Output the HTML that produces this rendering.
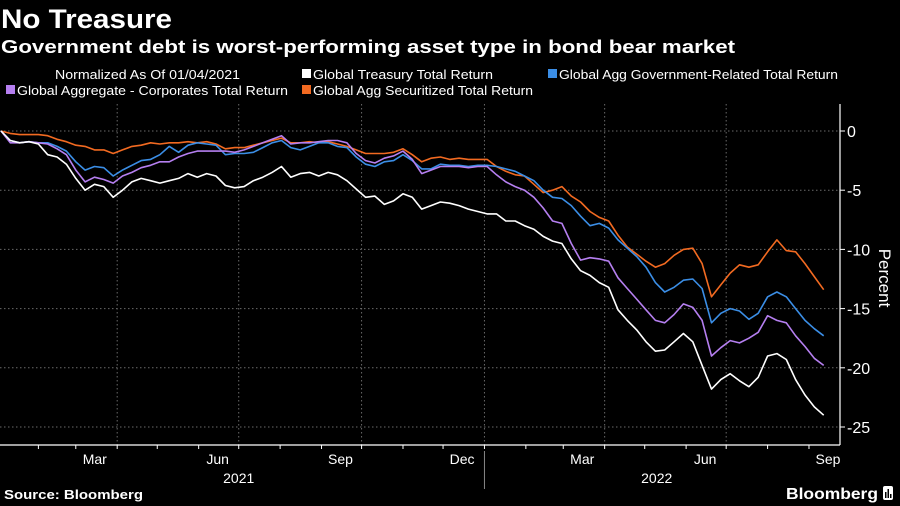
<!DOCTYPE html>
<html><head><meta charset="utf-8"><style>
html,body{margin:0;padding:0;background:#000;}
svg{display:block;font-family:"Liberation Sans",sans-serif;}
</style></head><body>
<svg id="chart" width="900" height="506" viewBox="0 0 900 506" xmlns="http://www.w3.org/2000/svg">
<rect x="0" y="0" width="900" height="506" fill="#000"/>
<text x="1" y="28" fill="#fff" font-weight="bold" font-size="27" textLength="171" lengthAdjust="spacingAndGlyphs">No Treasure</text>
<text x="1" y="53" fill="#fff" font-weight="bold" font-size="18" textLength="734" lengthAdjust="spacingAndGlyphs">Government debt is worst-performing asset type in bond bear market</text>
<g font-size="12.5" fill="#fff">
<text x="55" y="79" textLength="185" lengthAdjust="spacingAndGlyphs">Normalized As Of 01/04/2021</text>
<g><rect x="302" y="69" width="9" height="9" fill="#fff"/><text x="313" y="79" textLength="180" lengthAdjust="spacingAndGlyphs">Global Treasury Total Return</text></g>
<g><rect x="548" y="69" width="9" height="9" fill="#3b8ee6"/><text x="559" y="79" textLength="279" lengthAdjust="spacingAndGlyphs">Global Agg Government-Related Total Return</text></g>
<g><rect x="6" y="85" width="9" height="9" fill="#b57ff0"/><text x="17" y="95" textLength="271" lengthAdjust="spacingAndGlyphs">Global Aggregate - Corporates Total Return</text></g>
<g><rect x="302" y="85" width="9" height="9" fill="#f26a21"/><text x="313" y="95" textLength="220" lengthAdjust="spacingAndGlyphs">Global Agg Securitized Total Return</text></g>
</g>
<g id="grid"></g>
<g id="axes"></g>
<g id="series"></g>
<text transform="translate(879,278) rotate(90)" fill="#fff" font-size="17" text-anchor="middle">Percent</text>
<text x="4" y="499" fill="#fff" font-weight="bold" font-size="12.5" textLength="139" lengthAdjust="spacingAndGlyphs">Source: Bloomberg</text>
<text x="786" y="499" fill="#fff" font-weight="bold" font-size="16" textLength="92" lengthAdjust="spacingAndGlyphs">Bloomberg</text>
<g><rect x="883" y="486" width="10" height="14" rx="2" fill="#fff"/><rect x="885" y="492" width="1.5" height="6" fill="#000"/><rect x="887.5" y="489" width="1.5" height="9" fill="#000"/><rect x="890" y="494" width="1.5" height="4" fill="#000"/></g>
</svg>
<script>
const startDate = "2021-01-04";
const stepDays = 7;
const treasury = [0,-0.8,-1.0,-0.9,-1.1,-2.0,-2.2,-2.8,-4.0,-5.0,-4.5,-4.7,-5.6,-5.0,-4.3,-4.0,-4.2,-4.4,-4.2,-4.0,-3.6,-3.9,-3.6,-3.8,-4.6,-4.8,-4.7,-4.2,-3.9,-3.5,-3.0,-3.9,-3.6,-3.5,-3.8,-3.5,-3.7,-4.2,-4.9,-5.6,-5.5,-6.2,-5.9,-5.3,-5.6,-6.6,-6.3,-6.0,-6.1,-6.3,-6.6,-6.8,-7.0,-7.0,-7.6,-7.6,-8.0,-8.3,-8.9,-9.3,-9.5,-10.8,-11.8,-12.2,-12.8,-13.2,-15.1,-16.0,-16.8,-17.8,-18.6,-18.5,-17.8,-17.1,-17.8,-19.8,-21.8,-21.0,-20.5,-21.1,-21.6,-20.8,-19.0,-18.8,-19.3,-21.0,-22.3,-23.3,-24.0];
const govRelated = [0,-0.8,-1.0,-0.9,-1.0,-1.0,-1.3,-1.7,-2.6,-3.3,-3.0,-3.1,-3.8,-3.3,-2.9,-2.5,-2.4,-2.0,-1.3,-1.8,-1.2,-1.0,-1.1,-1.2,-2.0,-1.9,-1.9,-1.8,-1.4,-1.0,-0.8,-1.4,-1.6,-1.3,-1.0,-1.0,-1.3,-1.4,-2.2,-2.8,-3.0,-2.6,-2.5,-2.0,-2.5,-3.2,-3.2,-2.8,-2.9,-2.9,-3.0,-2.9,-2.9,-3.0,-3.2,-3.4,-3.8,-4.2,-5.0,-5.6,-5.7,-6.3,-7.2,-8.0,-7.8,-8.2,-9.2,-9.9,-10.6,-11.5,-12.8,-13.6,-13.2,-12.6,-12.5,-13.3,-16.2,-15.4,-15.0,-15.2,-15.9,-15.4,-14.0,-13.6,-14.0,-15.0,-16.0,-16.7,-17.3];
const corporates = [0,-1.0,-1.0,-0.9,-1.0,-1.1,-1.5,-2.0,-3.3,-4.3,-3.9,-4.1,-4.4,-3.8,-3.5,-3.1,-2.9,-2.6,-2.6,-2.2,-1.9,-1.7,-1.7,-1.7,-1.7,-1.8,-1.6,-1.3,-1.0,-0.7,-0.4,-1.1,-1.0,-1.0,-0.9,-0.8,-0.8,-1.0,-1.9,-2.5,-2.7,-2.3,-2.1,-1.7,-2.4,-3.6,-3.3,-3.0,-3.0,-3.0,-3.1,-3.0,-3.0,-3.7,-4.3,-4.7,-5.0,-5.6,-6.5,-7.6,-7.8,-9.5,-10.9,-10.7,-10.8,-11.0,-12.4,-13.3,-14.2,-15.1,-16.0,-16.2,-15.5,-14.6,-14.9,-16.0,-19.0,-18.3,-17.7,-17.9,-17.5,-17.0,-15.6,-16.0,-16.2,-17.3,-18.2,-19.2,-19.8];
const securitized = [0,-0.2,-0.3,-0.3,-0.3,-0.4,-0.7,-0.9,-1.2,-1.3,-1.6,-1.6,-1.9,-1.6,-1.3,-1.2,-1.0,-1.1,-1.0,-1.0,-0.9,-1.0,-0.9,-1.1,-1.5,-1.4,-1.4,-1.2,-1.0,-0.8,-0.6,-1.0,-1.0,-0.9,-1.0,-0.9,-1.1,-1.3,-1.6,-1.9,-1.9,-1.9,-1.8,-1.5,-2.0,-2.6,-2.3,-2.2,-2.4,-2.3,-2.4,-2.4,-2.4,-3.0,-3.4,-3.7,-3.8,-4.5,-5.2,-5.0,-4.7,-5.5,-6.0,-6.8,-7.3,-7.6,-8.8,-9.8,-10.4,-11.0,-11.5,-11.2,-10.5,-10.0,-9.9,-11.2,-14.0,-13.0,-12.0,-11.3,-11.5,-11.3,-10.2,-9.2,-10.1,-10.2,-11.2,-12.3,-13.4];
const yTicks = [0,-5,-10,-15,-20,-25];
const monthLabels = ["Mar","Jun","Sep","Dec","Mar","Jun","Sep"];
const monthLabelDates = ["2021-03-01","2021-06-01","2021-09-01","2021-12-01","2022-03-01","2022-06-01","2022-09-01"];
const quarterLines = ["2021-04-01","2021-07-01","2021-10-01","2022-01-01","2022-04-01","2022-07-01"];
const yearLabels = ["2021","2022"];
const yearLabelDates = ["2021-07-01","2022-05-10"];

const NS="http://www.w3.org/2000/svg";
const t0=Date.parse(startDate);
function dayOf(d){return (Date.parse(d)-t0)/86400000;}
function xScale(day){return 1+day*1.3355;}
function yScale(v){return 131-v*11.84;}
function mk(tag,attrs,parent){const e=document.createElementNS(NS,tag);for(const k in attrs)e.setAttribute(k,attrs[k]);parent.appendChild(e);return e;}
const grid=document.getElementById('grid'),axes=document.getElementById('axes'),ser=document.getElementById('series');
const plotRight=840, plotBottom=445, plotTop=104;
yTicks.forEach(v=>{
  const y=yScale(v);
  const l=mk('line',{x1:0,x2:plotRight,y1:y,y2:y,stroke:'#6a6a6a','stroke-width':1,'stroke-dasharray':'1.5,2.5'},grid);
  
  
  mk('line',{x1:plotRight,x2:plotRight+5,y1:y,y2:y,stroke:'#fff','stroke-width':1},axes);
  const t=mk('text',{x:plotRight+7,y:y+6,fill:'#fff','font-size':16},axes);
  t.textContent=String(v).replace('-','-');
  
  
});
quarterLines.forEach(d=>{
  const x=xScale(dayOf(d));
  const l=mk('line',{x1:x,x2:x,y1:plotTop,y2:plotBottom,stroke:'#6a6a6a','stroke-width':1,'stroke-dasharray':'1.5,2.5'},grid);
  
  
});
// month ticks
for(let y=2021;y<=2022;y++){for(let m=1;m<=12;m++){
  const ds=y+'-'+String(m).padStart(2,'0')+'-01';const day=dayOf(ds);
  if(day<0||xScale(day)>plotRight)continue;
  mk('line',{x1:xScale(day),x2:xScale(day),y1:plotBottom,y2:plotBottom+4,stroke:'#fff','stroke-width':1},axes);
}}
mk('line',{x1:0,x2:plotRight,y1:plotBottom,y2:plotBottom,stroke:'#fff','stroke-width':1.2},axes);
mk('line',{x1:plotRight,x2:plotRight,y1:plotTop,y2:plotBottom,stroke:'#fff','stroke-width':1.2},axes);
const sep=xScale(dayOf("2022-01-01"));
mk('line',{x1:sep,x2:sep,y1:plotBottom+6,y2:plotBottom+44,stroke:'#888','stroke-width':1},axes);
monthLabels.forEach((lab,i)=>{
  const t=mk('text',{x:xScale(dayOf(monthLabelDates[i]))+19,y:464,fill:'#fff','font-size':14,'text-anchor':'middle'},axes);
  t.textContent=lab;
  
  
});
yearLabels.forEach((lab,i)=>{
  const t=mk('text',{x:xScale(dayOf(yearLabelDates[i])),y:483,fill:'#fff','font-size':14,'text-anchor':'middle'},axes);
  t.textContent=lab;
  
  
});
function drawLine(vals,color,name){
  const pts=vals.map((v,i)=>xScale(i*stepDays).toFixed(1)+','+yScale(v).toFixed(1)).join(' ');
  const p=mk('polyline',{points:pts,fill:'none',stroke:color,'stroke-width':1.6,'stroke-linejoin':'round'},ser);
  
  
}
drawLine(securitized,'#f26a21','line-securitized');
drawLine(govRelated,'#3b8ee6','line-gov-related');
drawLine(corporates,'#b57ff0','line-corporates');
drawLine(treasury,'#ffffff','line-treasury');
</script>
</body></html>
